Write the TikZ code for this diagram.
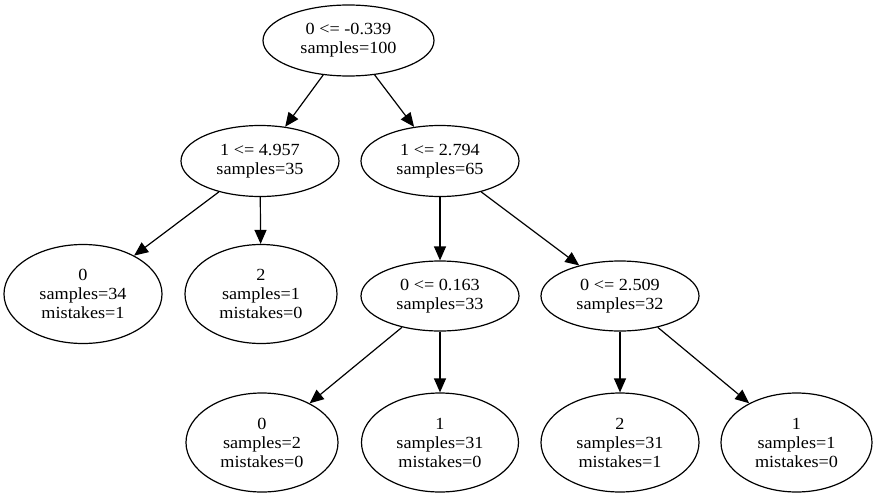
\documentclass[tikz,border=0pt]{standalone}
\usepackage{fontspec}
\setmainfont{Liberation Serif}[FakeStretch=1.07]
\usetikzlibrary{shapes.geometric,arrows.meta}
\begin{document}
\begin{tikzpicture}[x=1pt,y=-1pt,
  box/.style={draw,ellipse,line width=1.2pt,inner sep=0pt,align=center,
    font=\fontsize{17}{19}\selectfont},
  inner/.style={box,minimum width=158pt,minimum height=71pt},
  leaf/.style={box,minimum width=154pt,minimum height=99pt},
  edge/.style={line width=1.2pt,-{Triangle[length=14pt,width=12pt]}}]
\useasboundingbox (0,0) rectangle (878,498);
\node[inner,minimum width=171pt] (r) at (348.5,40.5) {0 <= -0.339\\samples=100};
\node[inner] (a) at (260,161) {1 <= 4.957\\samples=35};
\node[inner] (b) at (440,161) {1 <= 2.794\\samples=65};
\node[leaf,minimum width=158pt] (l1) at (83,294) {0\\samples=34\\mistakes=1};
\node[leaf,minimum width=152pt] (l2) at (261,294) {2\\samples=1\\mistakes=0};
\node[inner,minimum height=70pt] (c) at (440,296) {0 <= 0.163\\samples=33};
\node[inner,minimum height=70pt] (d) at (620,296) {0 <= 2.509\\samples=32};
\node[leaf,minimum width=152pt] (l3) at (262,442.5) {0\\samples=2\\mistakes=0};
\node[leaf,minimum width=157pt] (l4) at (440,442.5) {1\\samples=31\\mistakes=0};
\node[leaf,minimum width=158pt] (l5) at (620,442.5) {2\\samples=31\\mistakes=1};
\node[leaf,minimum width=151pt] (l6) at (796.5,442.5) {1\\samples=1\\mistakes=0};
\draw[edge] (r) -- (a);
\draw[edge] (r) -- (b);
\draw[edge] (a) -- (l1);
\draw[edge] (a) -- (l2);
\draw[edge] (b) -- (c);
\draw[edge] (b) -- (d);
\draw[edge] (c) -- (l3);
\draw[edge] (c) -- (l4);
\draw[edge] (d) -- (l5);
\draw[edge] (d) -- (l6);
\end{tikzpicture}
\end{document}
